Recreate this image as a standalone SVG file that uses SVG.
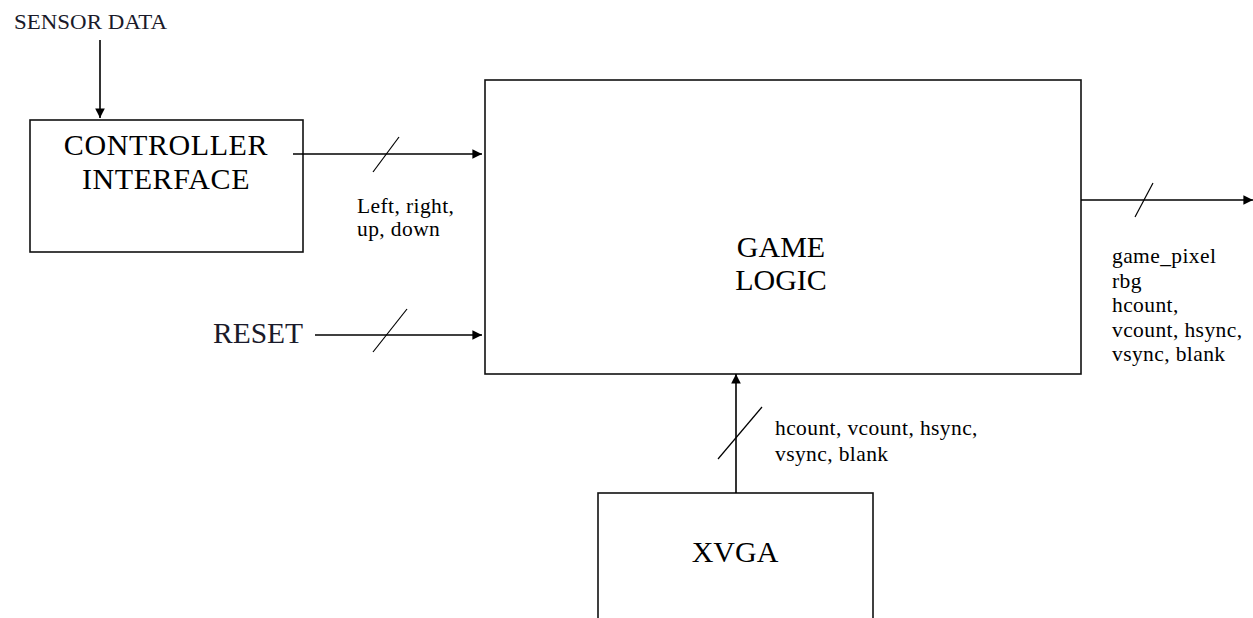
<svg xmlns="http://www.w3.org/2000/svg" width="1253" height="618" viewBox="0 0 1253 618">
<style>
.box{fill:#fff;stroke:#111;stroke-width:1.6}
.ln{fill:none;stroke:#000;stroke-width:1.6}
.sl{fill:none;stroke:#000;stroke-width:1.2}
.big{font-family:"Liberation Serif","Times New Roman",serif;font-size:30px;fill:#000;text-anchor:middle}
.lbl{font-family:"Liberation Serif","Times New Roman",serif;font-size:21.5px;letter-spacing:0.4px;fill:#000}
.hdr{font-family:"Liberation Serif","Times New Roman",serif;fill:#1a1a2a}
</style>
<defs>
<marker id="ah" viewBox="0 0 10 10" refX="10" refY="5" markerWidth="6" markerHeight="6" orient="auto" markerUnits="strokeWidth">
<path d="M0,0 L10,5 L0,10 z" fill="#000"/>
</marker>
</defs>
<rect width="1253" height="618" fill="#fff"/>
<g id="sensor-data">
<text class="hdr" x="14" y="29" font-size="21.5" textLength="153" lengthAdjust="spacingAndGlyphs">SENSOR DATA</text>
</g>
<g id="reset">
<text class="hdr" x="213" y="343" font-size="29.5">RESET</text>
</g>
<g id="controller-interface">
<rect class="box" x="30" y="120" width="273" height="132"/>
<text class="big" x="166" y="155" letter-spacing="0.6">CONTROLLER</text>
<text class="big" x="166" y="189" letter-spacing="0.6">INTERFACE</text>
</g>
<g id="game-logic">
<rect class="box" x="485" y="80" width="596" height="294"/>
<text class="big" x="781" y="257">GAME</text>
<text class="big" x="781" y="290">LOGIC</text>
</g>
<g id="xvga">
<rect class="box" x="598" y="493" width="275" height="140"/>
<text class="big" x="735" y="562" font-size="31">XVGA</text>
</g>
<g id="connectors">
<line class="ln" x1="100" y1="40" x2="100" y2="118" marker-end="url(#ah)"/>
<line class="ln" x1="293" y1="154" x2="482" y2="154" marker-end="url(#ah)"/>
<line class="sl" x1="373" y1="172" x2="399" y2="137"/>
<line class="ln" x1="315" y1="335" x2="482" y2="335" marker-end="url(#ah)"/>
<line class="sl" x1="373" y1="352" x2="407" y2="309"/>
<line class="ln" x1="1081" y1="200" x2="1253" y2="200" marker-end="url(#ah)"/>
<line class="sl" x1="1135" y1="217" x2="1153" y2="183"/>
<line class="ln" x1="736" y1="493" x2="736" y2="374" marker-end="url(#ah)"/>
<line class="sl" x1="718" y1="459" x2="762" y2="407"/>
</g>
<g id="labels">
<text class="lbl" x="357" y="213">Left, right,</text>
<text class="lbl" x="357" y="236">up, down</text>
<text class="lbl" x="1112" y="263" letter-spacing="1">game_pixel</text>
<text class="lbl" x="1112" y="288" letter-spacing="1">rbg</text>
<text class="lbl" x="1112" y="312" letter-spacing="1">hcount,</text>
<text class="lbl" x="1112" y="337" letter-spacing="1">vcount, hsync,</text>
<text class="lbl" x="1112" y="361" letter-spacing="1">vsync, blank</text>
<text class="lbl" x="775" y="435">hcount, vcount, hsync,</text>
<text class="lbl" x="775" y="461">vsync, blank</text>
</g>
</svg>
